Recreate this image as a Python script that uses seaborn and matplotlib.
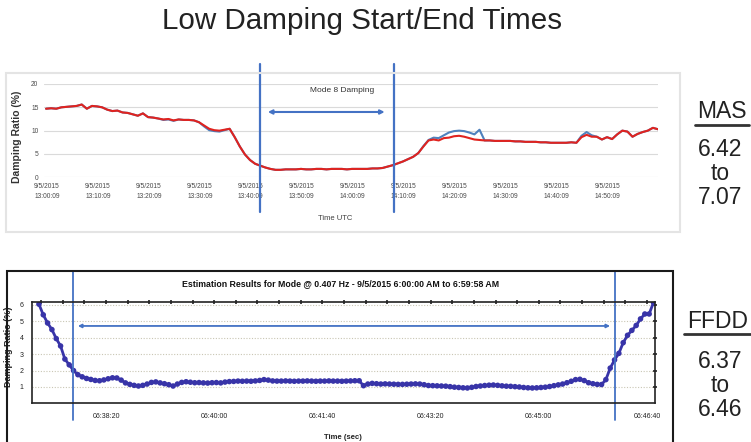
import numpy as np
import pandas as pd
import matplotlib
matplotlib.use("Agg")
import matplotlib.pyplot as plt
from matplotlib.lines import Line2D
from matplotlib.patches import Rectangle
from matplotlib.ticker import MultipleLocator
import seaborn as sns

# ---------------- data ----------------
# MAS estimates, one sample per minute after 13:00 UTC
mas_minutes = list(range(121))
mas_red = [
    14.7, 14.8, 14.7, 15.0, 15.1, 15.2, 15.3, 15.6, 14.7, 15.3,
    15.2, 15.0, 14.5, 14.2, 14.3, 13.9, 13.8, 13.5, 13.2, 13.7,
    12.9, 12.8, 12.6, 12.4, 12.5, 12.2, 12.4, 12.3, 12.3, 12.2,
    11.8, 11.1, 10.4, 10.1, 10.0, 10.2, 10.4, 8.6, 6.6, 4.9,
    3.7, 2.9, 2.5, 2.1, 1.8, 1.6, 1.6, 1.7, 1.7, 1.7,
    1.8, 1.7, 1.7, 1.8, 1.8, 1.7, 1.8, 1.8, 1.8, 1.7,
    1.8, 1.8, 1.8, 1.8, 1.9, 1.9, 2.0, 2.3, 2.6, 3.0,
    3.4, 3.9, 4.4, 5.2, 6.6, 7.9, 8.1, 7.9, 8.4, 8.5,
    8.8, 8.9, 8.7, 8.4, 8.1, 8.0, 7.9, 7.9, 7.8, 7.8,
    7.8, 7.8, 7.7, 7.7, 7.6, 7.6, 7.6, 7.5, 7.5, 7.4,
    7.4, 7.4, 7.4, 7.5, 7.4, 8.6, 9.1, 8.7, 8.7, 8.1,
    8.6, 8.2, 9.2, 10.0, 9.8, 8.7, 9.3, 9.7, 10.0, 10.6,
    10.3]
mas_blue = [
    14.7, 14.8, 14.7, 15.0, 15.1, 15.2, 15.3, 15.6, 14.7, 15.3,
    15.2, 15.0, 14.5, 14.2, 14.3, 13.9, 13.8, 13.5, 13.2, 13.7,
    12.9, 12.8, 12.6, 12.3, 12.4, 12.1, 12.4, 12.3, 12.3, 12.2,
    11.8, 10.9, 10.1, 9.9, 9.8, 10.1, 10.4, 8.6, 6.6, 4.9,
    3.7, 2.9, 2.5, 2.1, 1.8, 1.6, 1.6, 1.7, 1.7, 1.7,
    1.8, 1.7, 1.7, 1.8, 1.8, 1.7, 1.8, 1.8, 1.8, 1.7,
    1.8, 1.8, 1.8, 1.8, 1.9, 1.9, 2.0, 2.3, 2.6, 3.0,
    3.4, 3.9, 4.4, 5.2, 6.7, 8.0, 8.5, 8.4, 9.0, 9.6,
    9.9, 10.0, 9.9, 9.6, 9.2, 10.2, 7.9, 7.9, 7.8, 7.8,
    7.8, 7.8, 7.7, 7.7, 7.6, 7.6, 7.6, 7.5, 7.5, 7.4,
    7.4, 7.4, 7.4, 7.5, 7.4, 8.9, 9.7, 9.0, 8.7, 8.1,
    8.6, 8.2, 9.2, 10.0, 9.8, 8.7, 9.3, 9.7, 10.0, 10.6,
    10.3]
mas_tick_minutes = [0.15, 10.15, 20.15, 30.15, 40.15, 50.15,
                    60.15, 70.15, 80.15, 90.15, 100.15, 110.15]
mas_tick_labels = ["9/5/2015\n13:00:09", "9/5/2015\n13:10:09", "9/5/2015\n13:20:09",
                   "9/5/2015\n13:30:09", "9/5/2015\n13:40:09", "9/5/2015\n13:50:09",
                   "9/5/2015\n14:00:09", "9/5/2015\n14:10:09", "9/5/2015\n14:20:09",
                   "9/5/2015\n14:30:09", "9/5/2015\n14:40:09", "9/5/2015\n14:50:09"]
mas_window = (41.9, 68.2)          # minutes after 13:00

# FFDD estimates, seconds after 06:00:00, one sample every 4 s
ffdd_seconds = list(range(2238, 2807, 4))
ffdd_ratio = [
    6.05, 5.40, 4.90, 4.50, 3.95, 3.50, 2.70, 2.35, 2.00, 1.75,
    1.62, 1.52, 1.46, 1.40, 1.38, 1.43, 1.50, 1.56, 1.55, 1.42,
    1.25, 1.16, 1.10, 1.06, 1.10, 1.18, 1.28, 1.31, 1.25, 1.20,
    1.14, 1.06, 1.18, 1.28, 1.32, 1.29, 1.26, 1.27, 1.25, 1.24,
    1.26, 1.27, 1.25, 1.30, 1.33, 1.34, 1.36, 1.35, 1.36, 1.35,
    1.37, 1.40, 1.45, 1.42, 1.37, 1.36, 1.36, 1.37, 1.36, 1.35,
    1.36, 1.36, 1.37, 1.36, 1.35, 1.36, 1.36, 1.37, 1.36, 1.36,
    1.35, 1.36, 1.37, 1.38, 1.38, 1.08, 1.18, 1.22, 1.20, 1.18,
    1.19, 1.18, 1.17, 1.16, 1.16, 1.17, 1.18, 1.19, 1.18, 1.14,
    1.09, 1.08, 1.07, 1.06, 1.05, 1.02, 0.99, 0.97, 0.95, 0.94,
    0.98, 1.03, 1.06, 1.09, 1.11, 1.12, 1.10, 1.07, 1.05, 1.04,
    1.02, 1.00, 0.97, 0.95, 0.94, 0.95, 0.97, 0.99, 1.03, 1.08,
    1.13, 1.18, 1.26, 1.35, 1.45, 1.47, 1.39, 1.26, 1.20, 1.16,
    1.15, 1.45, 2.15, 2.65, 3.05, 3.70, 4.15, 4.45, 4.75, 5.15,
    5.45, 5.45, 6.15]
ffdd_tick_seconds = [2300, 2400, 2500, 2600, 2700, 2800]
ffdd_tick_labels = ["06:38:20", "06:40:00", "06:41:40", "06:43:20", "06:45:00", "06:46:40"]
ffdd_window = (2269.5, 2770.4)     # seconds after 06:00:00

# ---------------- style ----------------
sns.set_style("white")
plt.rcParams["font.family"] = ["Liberation Sans", "DejaVu Sans"]

W, H = 751, 442
fig = plt.figure(figsize=(W / 100, H / 100), dpi=100)


def fx(x):
    return x / W


def fy(y):
    return 1 - y / H


MARK_BLUE = "#4472c4"
DOT_BLUE = "#3834a8"
TXT = "#222222"

fig.text(fx(362), fy(21), "Low Damping Start/End Times", fontsize=21.3,
         ha="center", va="center", color=TXT)

# ---------------- MAS panel ----------------
fig.add_artist(Rectangle((fx(6), fy(232)), (680 - 6) / W, (232 - 73) / H,
                         transform=fig.transFigure, fill=False,
                         ec="#e4e4e4", lw=1.5))

ax1 = fig.add_axes([fx(44), fy(177.3), (658 - 44) / W, (177.3 - 84) / H])
df_top = pd.DataFrame({
    "minute": mas_minutes + mas_minutes,
    "ratio": mas_blue + mas_red,
    "series": ["MAS A"] * len(mas_blue) + ["MAS B"] * len(mas_red),
})
sns.lineplot(data=df_top, x="minute", y="ratio", hue="series",
             hue_order=["MAS A", "MAS B"],
             palette={"MAS A": "#4f81bd", "MAS B": "#e0231f"},
             linewidth=1.5, legend=False, ax=ax1)
ax1.set_xlim(-0.4, 120)
ax1.set_ylim(0, 20)
ax1.set_yticks([0, 5, 10, 15, 20])
ax1.set_xticks(mas_tick_minutes)
ax1.set_xticklabels(mas_tick_labels, linespacing=1.6)
ax1.yaxis.grid(True, color="#dadada", lw=0.8)
ax1.xaxis.grid(False)
for s in ax1.spines.values():
    s.set_visible(False)
ax1.tick_params(axis="both", length=0, labelsize=4.8, colors="#4a4a4a")
ax1.tick_params(axis="x", pad=4)
ax1.tick_params(axis="y", pad=4)
ax1.set_ylabel("Damping Ratio (%)", fontsize=7.5, fontweight="bold", color="#333333")
ax1.yaxis.set_label_coords((22 - 44) / 614, (177.3 - 137) / 93.3)
ax1.set_xlabel("Time UTC", fontsize=5.5, color="#404040")
ax1.xaxis.set_label_coords((335 - 44) / 614, (177.3 - 215) / 93.3)

for xv in mas_window:
    ax1.axvline(xv, ymin=-0.372, ymax=1.214, clip_on=False,
                color=MARK_BLUE, lw=1.6)
ax1.annotate("", xy=(mas_window[1] - 1.8, 14.0), xytext=(mas_window[0] + 1.6, 14.0),
             arrowprops=dict(arrowstyle="<|-|>", color=MARK_BLUE, lw=1.5,
                             mutation_scale=6, shrinkA=0, shrinkB=0))
ax1.text(58, 18.5, "Mode 8 Damping", fontsize=6, ha="center", va="center",
         color="#333333")

# ---------------- FFDD panel ----------------
fig.add_artist(Rectangle((fx(7), fy(470)), (673 - 7) / W, (470 - 271) / H,
                         transform=fig.transFigure, fill=False,
                         ec="#1a1a1a", lw=1.5))
fig.text(fx(341), fy(284),
         "Estimation Results for Mode @ 0.407 Hz - 9/5/2015 6:00:00 AM to 6:59:58 AM",
         fontsize=6.3, fontweight="bold", ha="center", va="center", color="#111111")

ax2 = fig.add_axes([fx(32), fy(403.4), (655 - 32) / W, (403.4 - 302) / H])
sns.lineplot(x=ffdd_seconds, y=ffdd_ratio, color=DOT_BLUE, lw=2.0, ax=ax2)
sns.scatterplot(x=ffdd_seconds, y=ffdd_ratio, color=DOT_BLUE, s=16,
                edgecolor="none", ax=ax2)
ax2.set_xlim(2231.6, 2807.4)
ax2.set_ylim(0, 6.18)
ax2.set_xticks(ffdd_tick_seconds)
ax2.set_xticklabels(ffdd_tick_labels)
ax2.xaxis.set_minor_locator(MultipleLocator(20))
ax2.set_yticks([1, 2, 3, 4, 5, 6])
ax2.yaxis.grid(True, color="#c9c6b4", lw=0.8, ls=(0, (1, 1.5)))
ax2.xaxis.grid(False)
for s in ax2.spines.values():
    s.set_color("#222222")
    s.set_linewidth(1.2)
ax2.tick_params(which="both", direction="inout", top=True, right=True,
                length=2.5, width=1.2, color="#222222")
ax2.tick_params(axis="x", labelsize=5, pad=6, colors="#222222")
ax2.tick_params(axis="y", labelsize=5, pad=5, colors="#222222")
ax2.set_ylabel("Damping Ratio (%)", fontsize=6.5, fontweight="bold", color="#222222")
ax2.yaxis.set_label_coords((13 - 32) / 623, (403.4 - 347) / 101.4)
ax2.set_xlabel("Time (sec)", fontsize=5.5, fontweight="bold", color="#222222")
ax2.xaxis.set_label_coords((343 - 32) / 623, (403.4 - 434) / 101.4)

for xv in ffdd_window:
    ax2.axvline(xv, ymin=-0.164, ymax=1.296, clip_on=False,
                color=MARK_BLUE, lw=1.3)
ax2.annotate("", xy=(ffdd_window[1] - 4.5, 4.72), xytext=(ffdd_window[0] + 4.5, 4.72),
             arrowprops=dict(arrowstyle="<|-|>", color=MARK_BLUE, lw=1.3,
                             mutation_scale=5, shrinkA=0, shrinkB=0))

# ---------------- side summaries ----------------
def summary(label, x_label, y_label, ul_x0, ul_x1, ul_y, lines, ys):
    fig.text(fx(x_label), fy(y_label), label, fontsize=16.5, ha="center",
             va="center", color=TXT)
    fig.add_artist(Line2D([fx(ul_x0), fx(ul_x1)], [fy(ul_y), fy(ul_y)],
                          transform=fig.transFigure, color="#333333", lw=2))
    for txt, yy in zip(lines, ys):
        fig.text(fx(720), fy(yy), txt, fontsize=16.5, ha="center",
                 va="center", color=TXT)


summary("MAS", 722, 112, 695, 749, 125, ["6.42", "to", "7.07"], [150, 173, 197])
summary("FFDD", 718, 321, 684, 751, 334, ["6.37", "to", "6.46"], [361, 385, 409])

fig.savefig("out.png", dpi=100)
